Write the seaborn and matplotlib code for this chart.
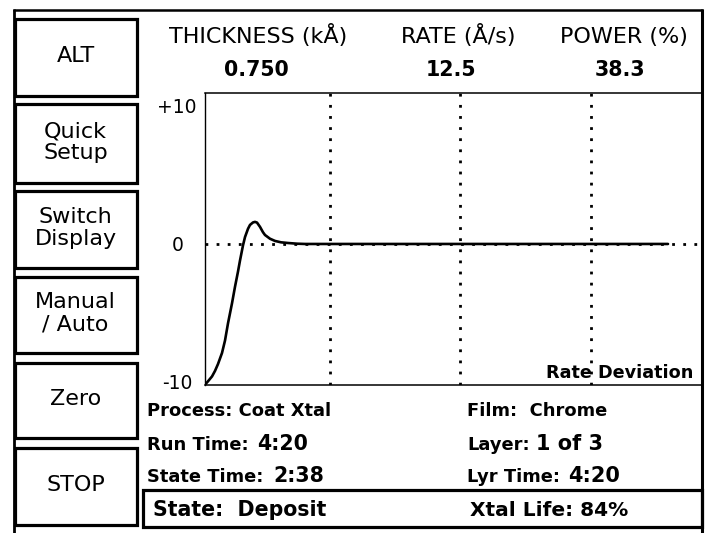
import numpy as np
import pandas as pd
import matplotlib
matplotlib.use("Agg")
import matplotlib.pyplot as plt
import seaborn as sns
from matplotlib.patches import Rectangle

# ---------------- data ----------------
# rate-deviation trace (x in screen-time units, y in deviation units)
trace_x = [0, 3, 7, 10, 13, 17, 20, 23, 27, 30, 33, 35, 38, 40, 43, 45, 48, 50,
           52, 55, 58, 60, 65, 70, 76, 83, 92, 100, 463]
trace_y = [-10.2, -9.95, -9.6, -9.2, -8.7, -7.9, -7.0, -5.75, -4.3, -3.1, -2.0,
           -1.2, -0.1, 0.5, 1.1, 1.38, 1.56, 1.6, 1.55, 1.24, 0.85, 0.65, 0.38,
           0.22, 0.12, 0.07, 0.02, 0.0, 0.0]
grid_x = [125, 255, 386]
x_range = (0, 497)
y_range = (-10.22, 10.94)
y_ticks = [10, 0, -10]
y_tick_labels = ["+10", "0", "-10"]

header_labels = ["THICKNESS (kÅ)", "RATE (Å/s)", "POWER (%)"]
header_values = ["0.750", "12.5", "38.3"]

button_labels = ["ALT", "Quick\nSetup", "Switch\nDisplay", "Manual\n/ Auto", "Zero", "STOP"]

info_left = [("Process: Coat Xtal", ""), ("Run Time:", "4:20"), ("State Time:", "2:38")]
info_right = [("Film:  Chrome", ""), ("Layer:", "1 of 3"), ("Lyr Time:", "4:20")]
state_text = "State:  Deposit"
xtal_text = "Xtal Life: 84%"
trace_title = "Rate Deviation"

# ---------------- style ----------------
sns.set_style("white")
plt.rcParams["font.family"] = ["DejaVu Sans"]
plt.rcParams["text.color"] = "black"
plt.rcParams["axes.labelcolor"] = "black"
plt.rcParams["xtick.color"] = "black"
plt.rcParams["ytick.color"] = "black"

W, H = 709, 533
fig = plt.figure(figsize=(W / 100, H / 100), dpi=100)
fig.patch.set_facecolor("white")

# main trace axes (pixel box: x 205..702, y 93..385)
L, R, T, B = 205, 702, 93, 385
ax = fig.add_axes([L / W, (H - B) / H, (R - L) / W, (B - T) / H])
ax.set_facecolor("white")

df = pd.DataFrame({"x": trace_x, "y": trace_y})
ax.axhline(0, color="black", lw=2.0, linestyle=(0, (1.0, 3.0)), zorder=1)
for gx in grid_x:
    ax.axvline(gx, color="black", lw=2.0, linestyle=(0, (1.0, 3.0)), zorder=1)
sns.lineplot(data=df, x="x", y="y", ax=ax, color="black", linewidth=1.9,
             estimator=None, sort=False, zorder=3)

ax.set_xlim(*x_range)
ax.set_ylim(*y_range)
ax.set_xticks([])
ax.set_yticks(y_ticks)
ax.set_yticklabels(y_tick_labels, fontsize=13.5, color="black")
ax.tick_params(axis="y", length=0, pad=20)
for lab in ax.get_yticklabels():
    lab.set_horizontalalignment("center")
ax.set_xlabel("")
ax.set_ylabel("")
for s in ["left", "top", "bottom"]:
    ax.spines[s].set_visible(True)
    ax.spines[s].set_color("black")
ax.spines["left"].set_linewidth(1.0)
ax.spines["top"].set_linewidth(1.1)
ax.spines["bottom"].set_linewidth(1.1)
ax.spines["right"].set_visible(False)
ax.text(0.982, 0.025, trace_title, transform=ax.transAxes, ha="right", va="baseline",
        fontsize=12.7, fontweight="bold", color="black", zorder=5)

# overlay axes in pixel coordinates for frame, buttons, text
ov = fig.add_axes([0, 0, 1, 1], zorder=10)
ov.set_xlim(0, W)
ov.set_ylim(H, 0)
ov.axis("off")
ov.patch.set_alpha(0)

# outer frame
ov.plot([13, 703], [9.5, 9.5], color="black", lw=1.8, solid_capstyle="butt")
ov.plot([14, 14], [9, 533], color="black", lw=2.0, solid_capstyle="butt")
ov.plot([702, 702], [9, 533], color="black", lw=2.2, solid_capstyle="butt")

# buttons
btn_boxes = [(19, 96), (104, 183), (191, 268), (277, 353), (363, 438), (448, 525)]
for (top, bot), lab in zip(btn_boxes, button_labels):
    ov.add_patch(Rectangle((15, top), 121.5, bot - top, fill=False, ec="black", lw=2.3))
    cy = (top + bot) / 2 - 2.5
    lines = lab.split("\n")
    cap = 14
    if len(lines) == 1:
        ov.text(75.5, cy + cap / 2, lines[0], ha="center", va="baseline", fontsize=16)
    else:
        ov.text(75.5, cy - 11 + cap / 2, lines[0], ha="center", va="baseline", fontsize=16)
        ov.text(75.5, cy + 11 + cap / 2, lines[1], ha="center", va="baseline", fontsize=16)

# header
hx_lab = [258, 458, 624]
hx_val = [256, 451, 620]
for xl, xv, lab, val in zip(hx_lab, hx_val, header_labels, header_values):
    ov.text(xl, 42.5, lab, ha="center", va="baseline", fontsize=16)
    ov.text(xv, 76, val, ha="center", va="baseline", fontsize=14.8, fontweight="bold")

# info rows
row_base = [416, 450, 482]
left_val_x = [None, 257, 273]
right_val_x = [None, 536, 568]
for (lab, val), yb, vx in zip(info_left, row_base, left_val_x):
    ov.text(147, yb, lab, ha="left", va="baseline", fontsize=12.9, fontweight="bold")
    if val:
        ov.text(vx, yb, val, ha="left", va="baseline", fontsize=14.8, fontweight="bold")
for (lab, val), yb, vx in zip(info_right, row_base, right_val_x):
    ov.text(467, yb, lab, ha="left", va="baseline", fontsize=12.9, fontweight="bold")
    if val:
        ov.text(vx, yb, val, ha="left", va="baseline", fontsize=15.0, fontweight="bold")

# state box
ov.add_patch(Rectangle((143, 489.5), 559, 37.5, fill=False, ec="black", lw=2.3))
ov.text(153, 516.5, state_text, ha="left", va="baseline", fontsize=14.8, fontweight="bold")
ov.text(470, 516.5, xtal_text, ha="left", va="baseline", fontsize=14.5, fontweight="bold")

fig.savefig("out.png", dpi=100, facecolor="white")
